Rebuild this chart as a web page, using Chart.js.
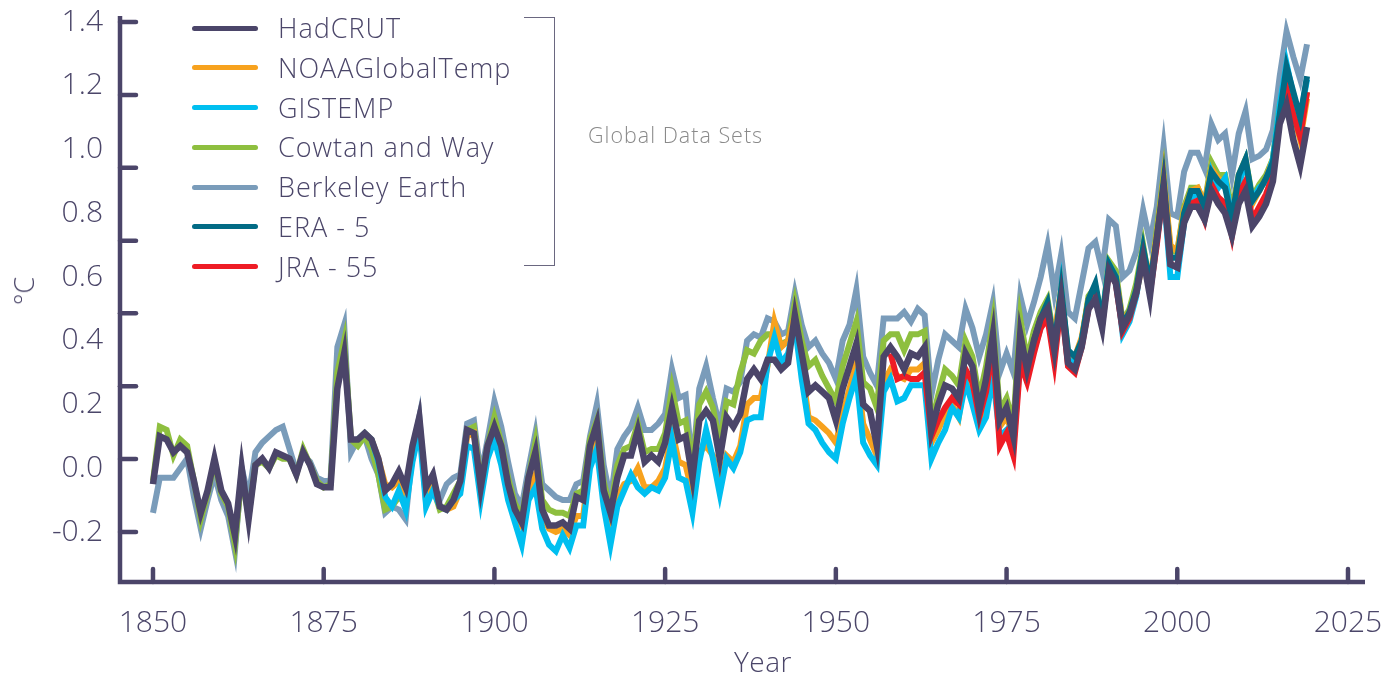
<!DOCTYPE html>
<html lang="en">
<head>
<meta charset="UTF-8">
<title>Global Data Sets</title>
<script src="https://cdn.jsdelivr.net/npm/chart.js"></script>
<style>
  html, body { margin: 0; padding: 0; background: #fff; }
  #wrap { position: relative; width: 1386px; height: 677px; overflow: hidden; font-family: "Open Sans", Lato, sans-serif; font-weight: 300; }
  #legend { position: absolute; left: 192px; top: 8px; }
  .row { position: relative; height: 39.8px; }
  .swatch { position: absolute; left: 0; top: 17.5px; width: 66px; height: 5px; border-radius: 3px; }
  .name { position: absolute; left: 86px; top: 0; line-height: 39.8px; font-size: 27px; letter-spacing: 1px; color: #4b4669; white-space: nowrap; }
  #bracket { position: absolute; left: 524px; top: 17px; width: 30px; height: 247px; border: 1.5px solid #6a6780; border-left: none; }
  #bracketLabel { position: absolute; left: 588px; top: 120px; font-size: 21.5px; letter-spacing: 1px; line-height: 30px; color: #8a8a8a; white-space: nowrap; }
  #xTitle { position: absolute; left: 763px; top: 646px; transform: translateX(-50%); font-size: 28px; letter-spacing: 0.5px; line-height: 30px; color: #4b4669; white-space: nowrap; }
  #yTitle { position: absolute; left: 24px; top: 291px; transform: translate(-50%, -50%) rotate(-90deg); font-size: 27px; line-height: 30px; color: #4b4669; white-space: nowrap; }
</style>
</head>
<body>
<div id="wrap">
  <canvas id="chart" width="1386" height="677"></canvas>
  <div id="legend"></div>
  <div id="bracket"></div>
  <div id="bracketLabel">Global Data Sets</div>
  <div id="xTitle">Year</div>
  <div id="yTitle">°C</div>
</div>
<script>
// anomalies in °C, one value per year from the start year
const hadcrutStart = 1850;
const hadcrut = [
  -0.05, 0.10, 0.09, 0.05, 0.07, 0.05, -0.04, -0.14, -0.07, 0.03,
  -0.07, -0.11, -0.21, 0.00, -0.16, 0.01, 0.03, 0.00, 0.05, 0.04,
  0.03, -0.02, 0.05, 0.01, -0.05, -0.06, -0.06, 0.25, 0.36, 0.09,
  0.09, 0.11, 0.09, 0.03, -0.07, -0.05, -0.01, -0.06, 0.07, 0.16,
  -0.06, -0.02, -0.12, -0.13, -0.10, -0.04, 0.12, 0.11, -0.06, 0.07,
  0.13, 0.07, -0.05, -0.13, -0.17, -0.03, 0.05, -0.13, -0.18, -0.18,
  -0.17, -0.19, -0.09, -0.10, 0.07, 0.14, -0.07, -0.14, -0.03, 0.04,
  0.04, 0.12, 0.02, 0.04, 0.02, 0.08, 0.19, 0.09, 0.10, -0.03,
  0.15, 0.18, 0.15, 0.03, 0.16, 0.13, 0.17, 0.28, 0.31, 0.28,
  0.34, 0.34, 0.31, 0.33, 0.48, 0.36, 0.24, 0.26, 0.24, 0.22,
  0.15, 0.25, 0.32, 0.39, 0.20, 0.18, 0.07, 0.35, 0.38, 0.35,
  0.31, 0.36, 0.35, 0.38, 0.12, 0.20, 0.26, 0.25, 0.22, 0.36,
  0.32, 0.18, 0.28, 0.42, 0.15, 0.19, 0.10, 0.42, 0.31, 0.40,
  0.47, 0.50, 0.37, 0.53, 0.33, 0.31, 0.38, 0.50, 0.53, 0.44,
  0.62, 0.58, 0.44, 0.48, 0.55, 0.66, 0.54, 0.72, 0.88, 0.64,
  0.63, 0.77, 0.82, 0.82, 0.78, 0.87, 0.83, 0.80, 0.73, 0.83,
  0.87, 0.76, 0.79, 0.83, 0.90, 1.08, 1.14, 1.03, 0.95, 1.07
];

const noaaStart = 1880;
const noaa = [
  0.09, 0.11, 0.09, 0.03, -0.05, -0.06, -0.04, -0.09, 0.03, 0.14,
  -0.09, -0.06, -0.12, -0.13, -0.12, -0.07, 0.10, 0.11, -0.06, 0.05,
  0.12, 0.05, -0.07, -0.13, -0.18, -0.07, -0.02, -0.15, -0.19, -0.20,
  -0.19, -0.21, -0.15, -0.15, 0.03, 0.09, -0.09, -0.17, -0.09, -0.05,
  -0.04, 0.00, -0.06, -0.06, -0.04, 0.00, 0.12, 0.02, 0.01, -0.08,
  0.05, 0.07, 0.04, -0.06, 0.04, 0.02, 0.07, 0.20, 0.22, 0.22,
  0.32, 0.46, 0.38, 0.40, 0.48, 0.32, 0.16, 0.15, 0.13, 0.11,
  0.08, 0.17, 0.25, 0.33, 0.14, 0.09, 0.04, 0.27, 0.31, 0.29,
  0.28, 0.31, 0.31, 0.33, 0.08, 0.12, 0.17, 0.20, 0.16, 0.30,
  0.25, 0.15, 0.20, 0.37, 0.13, 0.16, 0.10, 0.37, 0.30, 0.38,
  0.45, 0.49, 0.42, 0.56, 0.36, 0.35, 0.41, 0.53, 0.56, 0.47,
  0.62, 0.60, 0.46, 0.49, 0.55, 0.65, 0.59, 0.73, 0.91, 0.70,
  0.68, 0.81, 0.87, 0.88, 0.83, 0.94, 0.91, 0.89, 0.80, 0.91,
  0.96, 0.83, 0.87, 0.91, 0.97, 1.13, 1.20, 1.11, 1.03, 1.16
];

const gistempStart = 1880;
const gistemp = [
  0.09, 0.11, 0.09, 0.02, -0.09, -0.12, -0.07, -0.13, 0.02, 0.12,
  -0.12, -0.07, -0.12, -0.13, -0.10, -0.08, 0.07, 0.06, -0.10, 0.03,
  0.09, 0.01, -0.10, -0.17, -0.24, -0.10, -0.06, -0.19, -0.24, -0.26,
  -0.21, -0.25, -0.18, -0.18, 0.00, 0.06, -0.12, -0.24, -0.12, -0.07,
  -0.02, -0.06, -0.08, -0.06, -0.07, -0.03, 0.09, -0.03, -0.04, -0.14,
  0.02, 0.12, 0.03, -0.08, 0.03, 0.00, 0.05, 0.15, 0.16, 0.16,
  0.33, 0.41, 0.33, 0.36, 0.45, 0.28, 0.14, 0.12, 0.08, 0.05,
  0.03, 0.14, 0.22, 0.29, 0.08, 0.04, 0.01, 0.24, 0.28, 0.21,
  0.22, 0.26, 0.26, 0.26, 0.03, 0.08, 0.12, 0.19, 0.16, 0.27,
  0.20, 0.12, 0.16, 0.29, 0.10, 0.12, 0.07, 0.34, 0.29, 0.37,
  0.44, 0.50, 0.37, 0.56, 0.34, 0.33, 0.40, 0.52, 0.55, 0.47,
  0.64, 0.60, 0.42, 0.46, 0.54, 0.68, 0.58, 0.71, 0.87, 0.60,
  0.60, 0.77, 0.85, 0.86, 0.80, 0.93, 0.88, 0.91, 0.78, 0.89,
  0.96, 0.84, 0.88, 0.90, 0.97, 1.14, 1.27, 1.17, 1.10, 1.22
];

const cowtanStart = 1850;
const cowtan = [
  -0.04, 0.13, 0.12, 0.04, 0.09, 0.07, -0.04, -0.16, -0.08, 0.02,
  -0.08, -0.12, -0.24, -0.02, -0.15, 0.01, 0.02, 0.00, 0.04, 0.03,
  0.03, -0.02, 0.06, 0.01, -0.04, -0.06, -0.05, 0.30, 0.40, 0.09,
  0.07, 0.10, 0.06, -0.02, -0.13, -0.12, -0.09, -0.11, 0.06, 0.14,
  -0.08, -0.06, -0.13, -0.12, -0.08, -0.04, 0.12, 0.13, -0.05, 0.07,
  0.16, 0.08, -0.03, -0.11, -0.15, -0.03, 0.08, -0.10, -0.13, -0.14,
  -0.14, -0.15, -0.08, -0.07, 0.09, 0.15, -0.04, -0.13, 0.01, 0.06,
  0.07, 0.14, 0.05, 0.06, 0.06, 0.11, 0.25, 0.14, 0.15, 0.01,
  0.20, 0.24, 0.19, 0.08, 0.21, 0.20, 0.30, 0.37, 0.36, 0.40,
  0.42, 0.42, 0.39, 0.40, 0.52, 0.40, 0.32, 0.34, 0.29, 0.25,
  0.21, 0.32, 0.39, 0.46, 0.27, 0.25, 0.19, 0.40, 0.42, 0.42,
  0.37, 0.42, 0.42, 0.43, 0.14, 0.23, 0.31, 0.29, 0.26, 0.40,
  0.35, 0.22, 0.32, 0.46, 0.18, 0.22, 0.14, 0.47, 0.34, 0.43,
  0.49, 0.53, 0.40, 0.56, 0.35, 0.34, 0.40, 0.54, 0.57, 0.47,
  0.65, 0.62, 0.46, 0.50, 0.58, 0.70, 0.57, 0.75, 0.92, 0.68,
  0.68, 0.82, 0.88, 0.88, 0.83, 0.96, 0.92, 0.92, 0.81, 0.92,
  0.97, 0.85, 0.89, 0.92, 0.97, 1.14, 1.23, 1.14, 1.06, 1.18
];

const berkeleyStart = 1850;
const berkeley = [
  -0.14, -0.03, -0.03, -0.03, 0.00, 0.03, -0.09, -0.19, -0.10, -0.02,
  -0.10, -0.15, -0.26, 0.00, -0.09, 0.05, 0.08, 0.10, 0.12, 0.13,
  0.06, -0.01, 0.04, 0.02, -0.03, -0.04, -0.04, 0.38, 0.45, 0.05,
  0.09, 0.10, 0.03, -0.02, -0.14, -0.12, -0.13, -0.16, 0.05, 0.16,
  -0.11, -0.05, -0.10, -0.05, -0.03, -0.02, 0.14, 0.15, -0.02, 0.09,
  0.21, 0.13, 0.02, -0.08, -0.12, 0.00, 0.11, -0.05, -0.07, -0.09,
  -0.10, -0.10, -0.05, -0.04, 0.10, 0.20, 0.01, -0.10, 0.06, 0.10,
  0.13, 0.19, 0.12, 0.12, 0.14, 0.17, 0.31, 0.22, 0.23, 0.00,
  0.25, 0.32, 0.22, 0.13, 0.25, 0.24, 0.27, 0.40, 0.42, 0.41,
  0.47, 0.46, 0.42, 0.43, 0.55, 0.45, 0.38, 0.40, 0.36, 0.33,
  0.28, 0.40, 0.45, 0.56, 0.35, 0.30, 0.26, 0.47, 0.47, 0.47,
  0.49, 0.46, 0.50, 0.48, 0.23, 0.34, 0.42, 0.40, 0.38, 0.50,
  0.44, 0.35, 0.42, 0.52, 0.30, 0.36, 0.30, 0.54, 0.45, 0.52,
  0.60, 0.70, 0.55, 0.67, 0.49, 0.47, 0.58, 0.69, 0.71, 0.62,
  0.78, 0.76, 0.60, 0.62, 0.68, 0.81, 0.71, 0.82, 1.01, 0.80,
  0.79, 0.93, 0.99, 0.99, 0.94, 1.08, 1.03, 1.05, 0.92, 1.05,
  1.12, 0.97, 0.98, 1.00, 1.06, 1.23, 1.37, 1.29, 1.22, 1.33
];

const era5Start = 1979;
const era5 = [
  0.40,
  0.47, 0.52, 0.38, 0.56, 0.37, 0.35, 0.40, 0.53, 0.58, 0.46,
  0.64, 0.60, 0.45, 0.49, 0.56, 0.69, 0.58, 0.72, 0.90, 0.66,
  0.66, 0.80, 0.87, 0.87, 0.82, 0.93, 0.90, 0.88, 0.78, 0.92,
  0.97, 0.84, 0.87, 0.91, 0.96, 1.11, 1.26, 1.18, 1.10, 1.23
];

const jra55Start = 1958;
const jra55 = [
  0.36, 0.28,
  0.29, 0.28, 0.28, 0.30, 0.10, 0.15, 0.19, 0.22, 0.20, 0.31,
  0.27, 0.16, 0.24, 0.38, 0.07, 0.11, 0.04, 0.33, 0.27, 0.36,
  0.44, 0.47, 0.33, 0.52, 0.32, 0.30, 0.38, 0.50, 0.54, 0.45,
  0.62, 0.58, 0.43, 0.47, 0.55, 0.67, 0.55, 0.70, 0.88, 0.64,
  0.63, 0.78, 0.83, 0.84, 0.78, 0.89, 0.85, 0.83, 0.73, 0.86,
  0.90, 0.78, 0.82, 0.86, 0.92, 1.10, 1.19, 1.11, 1.04, 1.18
];

const seriesNames = ['HadCRUT', 'NOAAGlobalTemp', 'GISTEMP', 'Cowtan and Way', 'Berkeley Earth', 'ERA - 5', 'JRA - 55'];
const seriesColors = ['#4b4569', '#f7a21e', '#00bff0', '#8ebf3f', '#7a9cba', '#026b85', '#ee1c25'];
const seriesStarts = [hadcrutStart, noaaStart, gistempStart, cowtanStart, berkeleyStart, era5Start, jra55Start];
const seriesValues = [hadcrut, noaa, gistemp, cowtan, berkeley, era5, jra55];
const seriesOrder = [0, 4, 3, 5, 6, 1, 2]; // lower = drawn on top

const xTickYears = [1850, 1875, 1900, 1925, 1950, 1975, 2000, 2025];
const yTickValues = [-0.2, 0.0, 0.2, 0.4, 0.6, 0.8, 1.0, 1.2, 1.4];
// the tick marks on the y axis do not line up with the labels in the original
const yMarkValues = [-0.2, 0.029, 0.257, 0.486, 0.714, 0.943, 1.171, 1.4];

const textColor = '#4b4669';
const axisColor = '#4b4569';
const FONT = '"Open Sans", Lato, sans-serif';

// legend
const legend = document.getElementById('legend');
seriesNames.forEach((name, i) => {
  const row = document.createElement('div');
  row.className = 'row';
  row.innerHTML = '<div class="swatch" style="background:' + seriesColors[i] + '"></div><div class="name">' + name + '</div>';
  legend.appendChild(row);
});

// axis lines and inner tick marks
const axisPlugin = {
  id: 'axisLines',
  afterDraw(chart) {
    const { ctx, chartArea: a, scales: { x, y } } = chart;
    ctx.save();
    ctx.strokeStyle = axisColor;
    ctx.lineWidth = 4.5;
    ctx.lineCap = 'round';
    yMarkValues.forEach(v => {
      const py = y.getPixelForValue(v);
      ctx.beginPath(); ctx.moveTo(a.left, py); ctx.lineTo(a.left + 16, py); ctx.stroke();
    });
    xTickYears.forEach(v => {
      const px = x.getPixelForValue(v);
      ctx.beginPath(); ctx.moveTo(px, a.bottom); ctx.lineTo(px, a.bottom - 13); ctx.stroke();
    });
    ctx.lineCap = 'butt';
    ctx.beginPath();
    ctx.moveTo(a.left, a.top - 2);
    ctx.lineTo(a.left, a.bottom);
    ctx.lineTo(a.right, a.bottom);
    ctx.stroke();
    ctx.restore();
  }
};

const datasets = seriesValues.map((vals, i) => ({
  label: seriesNames[i],
  data: vals.map((v, k) => ({ x: seriesStarts[i] + k, y: v })),
  borderColor: seriesColors[i],
  backgroundColor: seriesColors[i],
  borderWidth: i === 0 ? 6.5 : 6,
  pointRadius: 0,
  tension: 0,
  fill: false,
  order: seriesOrder[i]
}));

new Chart(document.getElementById('chart'), {
  type: 'line',
  data: { datasets },
  options: {
    responsive: false,
    animation: false,
    devicePixelRatio: 1,
    layout: { padding: { top: 18, right: 21, left: 0, bottom: 0 } },
    plugins: { legend: { display: false }, tooltip: { enabled: false } },
    scales: {
      x: {
        type: 'linear',
        min: 1845.17,
        max: 2027.49,
        afterBuildTicks: s => { s.ticks = xTickYears.map(v => ({ value: v })); },
        afterFit: s => { s.height = 95; s.paddingLeft = 0; s.paddingRight = 0; },
        grid: { display: false, drawTicks: false },
        border: { display: false },
        ticks: {
          color: textColor,
          padding: 23,
          maxRotation: 0,
          font: { family: FONT, size: 30, weight: 300 },
          callback: v => String(v)
        }
      },
      y: {
        min: -0.357,
        max: 1.4125,
        afterBuildTicks: s => { s.ticks = yTickValues.map(v => ({ value: v })); },
        afterFit: s => { s.width = 120; s.paddingTop = 0; s.paddingBottom = 0; },
        grid: { display: false, drawTicks: false },
        border: { display: false },
        ticks: {
          color: textColor,
          padding: 17,
          font: { family: FONT, size: 30, weight: 300 },
          callback: v => v.toFixed(1)
        }
      }
    }
  },
  plugins: [axisPlugin]
});
</script>
</body>
</html>
